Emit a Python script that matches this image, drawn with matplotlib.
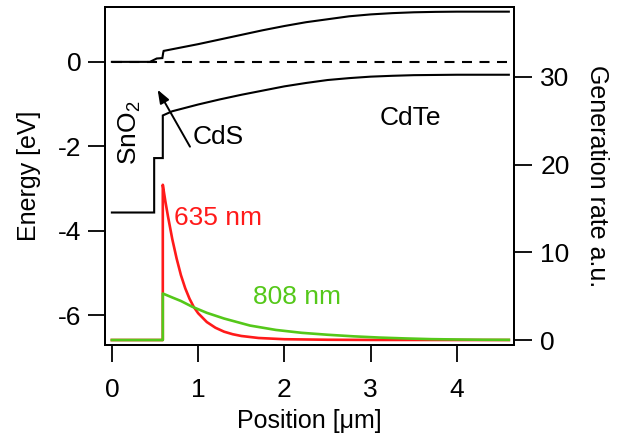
import matplotlib
matplotlib.use('Agg')
import matplotlib.pyplot as plt

plt.rcParams['font.family'] = ['Liberation Sans', 'DejaVu Sans']
plt.rcParams['mathtext.fontset'] = 'custom'
plt.rcParams['mathtext.rm'] = 'Liberation Sans'
plt.rcParams['mathtext.it'] = 'Liberation Sans:italic'
plt.rcParams['axes.unicode_minus'] = False

# ---- data ----
cb_x = [0, 0.44, 0.52, 0.585, 0.595, 0.6, 0.8, 1.0, 1.25, 1.5, 1.75, 2.0, 2.25, 2.5,
        2.75, 3.0, 3.25, 3.5, 3.75, 4.0, 4.3, 4.6]
cb_e = [0, 0, 0.08, 0.09, 0.22, 0.26, 0.34, 0.42, 0.53, 0.64, 0.75, 0.85, 0.94, 1.01,
        1.08, 1.125, 1.155, 1.175, 1.185, 1.19, 1.19, 1.19]

vb_x = [0, 0.49, 0.49, 0.59, 0.59, 0.7, 0.85, 1.0, 1.25, 1.5, 1.75, 2.0, 2.25, 2.5,
        2.75, 3.0, 3.25, 3.5, 3.75, 4.0, 4.3, 4.6]
vb_e = [-3.57, -3.57, -2.28, -2.28, -1.27, -1.17, -1.09, -1.01, -0.89, -0.78, -0.68,
        -0.58, -0.50, -0.43, -0.385, -0.35, -0.33, -0.315, -0.31, -0.305, -0.305, -0.305]

fermi_x = [0, 4.6]
fermi_e = [0, 0]

red_x = [0, 0.59, 0.59, 0.62, 0.65, 0.7, 0.75, 0.8, 0.85, 0.9, 0.95, 1.0, 1.1, 1.2,
         1.3, 1.4, 1.5, 1.7, 2.0, 2.5, 3.0, 4.6]
red_g = [0, 0, 17.7, 15.8, 14.1, 11.5, 9.3, 7.4, 5.9, 4.7, 3.75, 3.05, 2.05, 1.4,
         0.95, 0.66, 0.46, 0.23, 0.09, 0.03, 0.01, 0]

green_x = [0, 0.59, 0.59, 0.7, 0.8, 0.93, 1.1, 1.3, 1.6, 1.9, 2.2, 2.5, 2.8, 3.1,
           3.4, 3.7, 4.0, 4.3, 4.6]
green_g = [0, 0, 5.3, 4.85, 4.45, 3.8, 3.1, 2.45, 1.65, 1.15, 0.82, 0.6, 0.42, 0.28,
           0.18, 0.1, 0.06, 0.03, 0.02]

x_ticks = [0, 1, 2, 3, 4]
e_ticks = [0, -2, -4, -6]
g_ticks = [0, 10, 20, 30]

RED = '#ff1a1a'
GREEN = '#55c81a'

fig = plt.figure(figsize=(6.26, 4.33), dpi=100)
ax = fig.add_axes([0.1677, 0.2032, 0.6534, 0.7806])
ax2 = ax.twinx()

ax.set_xlim(-0.08, 4.66)
ax.set_ylim(-6.71, 1.30)
ax2.set_ylim(-0.57, 37.97)

ax.plot(cb_x, cb_e, color='black', lw=1.5, solid_joinstyle='miter')
ax.plot(vb_x, vb_e, color='black', lw=1.5, solid_joinstyle='miter')
ax.plot(fermi_x, fermi_e, color='black', lw=1.5, dashes=(4.8, 3.6))

ax2.plot(red_x, red_g, color=RED, lw=1.9, zorder=2)
ax2.plot(green_x, green_g, color=GREEN, lw=1.9, zorder=3)

fs = 19
fl = 18
ax.set_xticks(x_ticks)
ax.set_yticks(e_ticks)
ax2.set_yticks(g_ticks)
for a in (ax, ax2):
    for s in a.spines.values():
        s.set_linewidth(1.4)
ax.tick_params(axis='both', direction='out', length=12, width=1.3, labelsize=fs, pad=5,
               top=False, right=False)
ax.tick_params(axis='x', pad=12)
ax2.tick_params(axis='y', direction='out', length=13, width=1.3, labelsize=fs, pad=6)

ax.set_xlabel('Position [μm]', fontsize=fl, labelpad=5)
ax.set_ylabel('Energy [eV]', fontsize=fl, labelpad=12)
ax2.set_ylabel('Generation rate a.u.', fontsize=fl, rotation=-90, labelpad=28)

ax.text(0.21, -1.68, 'SnO$_2$', rotation=90, fontsize=fs, ha='center', va='center')
ax.text(1.23, -1.78, 'CdS', fontsize=fs, ha='center', va='center')
ax.text(3.46, -1.33, 'CdTe', fontsize=fs, ha='center', va='center')
ax.annotate('', xy=(0.53, -0.66), xytext=(0.905, -2.01),
            arrowprops=dict(arrowstyle='-|>,head_length=0.8,head_width=0.3',
                            color='black', lw=1.4, shrinkA=0, shrinkB=0))

ax2.text(1.235, 13.9, '635 nm', color=RED, fontsize=fs, ha='center', va='center')
ax2.text(2.15, 4.94, '808 nm', color=GREEN, fontsize=fs, ha='center', va='center')

fig.savefig('out.png', dpi=100)
